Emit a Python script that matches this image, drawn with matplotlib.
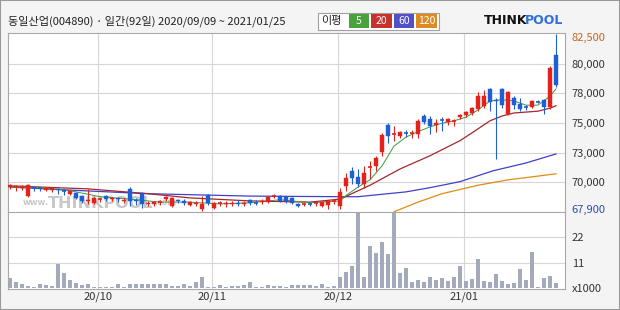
import matplotlib
matplotlib.use('Agg')
import matplotlib.pyplot as plt
from matplotlib.patches import Rectangle
import matplotlib.transforms as mtransforms

plt.rcParams['font.family'] = ['Noto Sans CJK KR', 'DejaVu Sans']

# daily candles 2020/09/09 ~ 2021/01/25 (92 trading days)
opens = [69800, 69800, 69750, 69050, 69800, 69750, 69550, 69550, 69650, 69550,
         69250, 69300, 69050, 68650, 68500, 68750, 69050, 68800, 68900, 68650,
         69650, 68750, 69250, 68400, 68400, 68500, 68800, 68250, 68750, 68650,
         68300, 68400, 68000, 69150, 68050, 68400, 68400, 68400, 68500, 68400,
         68750, 68550, 68550, 68550, 69000, 69050, 69000, 68900, 68400, 68350,
         68450, 68400, 68250, 68300, 68600, 68250, 69900, 71150, 70650, 70050,
         71400, 71550, 72700, 74950, 74150, 74050, 74350, 74250, 74200, 75700,
         75450, 74950, 75450, 75200, 75250, 75600, 75800, 75950, 76300, 76550,
         77950, 77050, 77950, 75850, 77200, 76700, 76500, 76450, 76900, 77050,
         76450, 80750]
closes = [69950, 69900, 69900, 69950, 69750, 69700, 69750, 69750, 69550, 69500,
          69500, 68900, 68650, 68750, 68900, 68800, 68800, 68900, 68800, 68750,
          68650, 68650, 68400, 68500, 68550, 68550, 69000, 68900, 68650, 68500,
          68550, 68500, 68400, 68500, 68500, 68450, 68500, 68500, 68400, 68500,
          68500, 68500, 68650, 69000, 69050, 68650, 68650, 68500, 68250, 68400,
          68400, 68450, 68550, 68650, 68650, 69400, 70550, 70550, 70050, 70950,
          71450, 72200, 74150, 74050, 74200, 74350, 74300, 74300, 75300, 75200,
          74850, 75100, 75400, 75450, 75300, 75800, 76050, 76350, 77350, 77350,
          76850, 76950, 76600, 77700, 76600, 76300, 76450, 76950, 76850, 76450,
          79700, 78300]
highs = [70050, 69950, 69950, 70050, 69900, 69800, 69800, 69800, 69750, 69650,
         69550, 69400, 69150, 69650, 69000, 68900, 69150, 69000, 69000, 68900,
         69800, 68900, 69400, 68650, 68650, 68750, 69050, 69000, 68800, 68800,
         68650, 68650, 69050, 69250, 68550, 68650, 68650, 68650, 68750, 68650,
         68800, 68750, 68800, 69050, 69250, 69150, 69050, 69000, 68500, 68500,
         68550, 68550, 68650, 68750, 68800, 69750, 70950, 71450, 71300, 71550,
         71950, 72400, 74300, 75100, 74850, 74450, 74550, 74550, 75450, 75850,
         75700, 75450, 75600, 75550, 75450, 75850, 76100, 76450, 77700, 77850,
         78050, 77200, 78050, 77800, 77350, 77200, 76600, 77050, 77050, 77100,
         79850, 82500]
lows = [69650, 69500, 69550, 69000, 69500, 69450, 69500, 69400, 69250, 69150,
        69150, 68800, 68500, 68400, 68400, 68550, 68650, 68650, 68550, 68500,
        68250, 68300, 68050, 68250, 68250, 68300, 68650, 68150, 68500, 68300,
        68250, 68250, 67800, 68300, 68000, 68250, 68150, 68250, 68250, 68250,
        68300, 68300, 68400, 68500, 68900, 68550, 68500, 68400, 68150, 68250,
        68250, 68250, 68150, 68000, 68400, 68000, 69500, 70050, 69800, 69750,
        70450, 71150, 72400, 73450, 73650, 73900, 73950, 73900, 73900, 75050,
        74200, 74350, 74450, 74950, 74850, 75450, 75600, 75800, 76100, 76350,
        76100, 72150, 76350, 75800, 76300, 76100, 76200, 76350, 76800, 75850,
        76300, 78100]
# volume, x1000 shares
volumes = [4.4, 2.5, 1.9, 1.0, 0.4, 1.9, 1.2, 0.7, 10.6, 6.6,
           3.4, 2.2, 1.5, 1.9, 0.4, 0.3, 0.3, 0.3, 1.9, 0.4,
           1.6, 1.9, 1.9, 1.8, 1.9, 1.8, 1.6, 0.7, 0.7, 1.9,
           1.0, 2.5, 4.7, 0.3, 0.3, 1.2, 0.4, 0.7, 0.7, 1.2,
           2.4, 0.4, 0.4, 1.3, 0.7, 0.7, 0.6, 1.2, 1.2, 1.2,
           1.5, 0.7, 1.9, 0.6, 0.7, 4.8, 7.0, 9.7, 36.0, 4.8,
           18.4, 15.0, 20.0, 14.6, 36.0, 6.3, 8.7, 2.7, 3.3, 2.5,
           4.8, 3.6, 4.2, 3.0, 4.8, 9.7, 3.0, 3.9, 12.7, 3.0,
           2.7, 6.0, 3.0, 1.9, 2.1, 8.2, 3.3, 15.7, 0.6, 4.2,
           5.2, 2.1]

# moving averages (day index, price)
ma5_idx = [0, 5, 10, 15, 20, 25, 30, 35, 40, 45, 50, 55, 56, 58, 60, 62, 64, 66,
           68, 70, 72, 74, 76, 78, 80, 82, 84, 86, 88, 90, 91]
ma5_val = [69800, 69750, 69500, 69000, 68800, 68550, 68550, 68400, 68500, 68750,
           68500, 68650, 69100, 69800, 70400, 71550, 73200, 73950, 74400, 74800,
           75100, 75300, 75600, 76200, 76950, 77050, 76950, 76600, 76600, 77350, 77950]
ma20_idx = [0, 13, 23, 30, 40, 50, 55, 60, 65, 70, 73, 75, 77, 80, 82, 84, 88, 90, 91]
ma20_val = [69900, 69650, 69250, 68900, 68650, 68550, 68800, 69950, 71300, 72400,
            73150, 73650, 74300, 75300, 75700, 75950, 76100, 76350, 76550]
ma60_idx = [0, 12, 23, 40, 55, 58, 61, 66, 70, 75, 80.5, 86, 91]
ma60_val = [69800, 69500, 69250, 69050, 69000, 69000, 69150, 69400, 69750, 70250,
            71150, 71800, 72550]
ma120_idx = [64, 68, 72, 78, 83, 91]
ma120_val = [67750, 68550, 69250, 69950, 70400, 70900]

month_starts = [15, 34, 55, 76]
month_labels = ['20/10', '20/11', '20/12', '21/01']
price_grid = [70240, 72650, 75160, 77580, 80000]
price_grid_labels = ['70,000', '73,000', '75,000', '78,000', '80,000']
vol_ticks = [0, 11, 22]
vol_tick_labels = ['x1000', '11', '22']

UP = '#e4211b'
DOWN = '#1e5fd4'
GRID = '#d6d6d6'
EDGE = '#a8a8a8'
W, H = 620, 310


def box(x0, y0, x1, y1):
    # pixel box (top-left origin) -> figure fraction
    return [x0 / W, 1 - y1 / H, (x1 - x0) / W, (y1 - y0) / H]


fig = plt.figure(figsize=(6.2, 3.1), dpi=100, facecolor='#f4f4f4')
ax_p = fig.add_axes(box(8, 33, 565, 212))
ax_v = fig.add_axes(box(8, 212, 565, 289))

n = len(opens)
for ax in (ax_p, ax_v):
    ax.set_facecolor('white')
    ax.set_xlim(-0.33, 92.5)
    for s in ax.spines.values():
        s.set_color(EDGE)
        s.set_linewidth(0.8)
    for m in month_starts:
        ax.axvline(m - 0.35, color=GRID, lw=0.8, zorder=0)
    ax.tick_params(length=0)
# one divider line between the panels
ax_p.spines['bottom'].set_visible(False)

# price panel
ax_p.set_ylim(67730, 82590)
for g in price_grid:
    ax_p.axhline(g, color=GRID, lw=0.8, zorder=0)
ax_p.set_xticks([])
ax_p.yaxis.tick_right()
ax_p.set_yticks(price_grid)
ax_p.set_yticklabels(price_grid_labels, fontsize=8, color='#333333')
ax_p.tick_params(axis='y', pad=5)

# watermark
ax_p.text(0.026, 0.04, 'www.', transform=ax_p.transAxes, fontsize=6.5,
          color='#c4c4c4', fontweight='bold', zorder=0.5)
ax_p.text(0.072, 0.025, 'THINKPOOL', transform=ax_p.transAxes, fontsize=11.5,
          color='#c8c8c8', fontweight='bold', family='DejaVu Sans', zorder=0.5)
ax_p.text(0.262, 0.04, '.com', transform=ax_p.transAxes, fontsize=6.5,
          color='#c4c4c4', fontweight='bold', zorder=0.5)

ax_p.plot(ma120_idx, ma120_val, color='#e08c12', lw=0.9, zorder=2)
ax_p.plot(ma60_idx, ma60_val, color='#4040c8', lw=0.9, zorder=2)
ax_p.plot(ma20_idx, ma20_val, color='#a5262c', lw=0.9, zorder=2)
ax_p.plot(ma5_idx, ma5_val, color='#3b9b3b', lw=0.7, zorder=2)

for i in range(n):
    o, c, h, l = opens[i], closes[i], highs[i], lows[i]
    col = UP if c >= o else DOWN
    ax_p.vlines(i, l, h, color=col, lw=0.8, zorder=3)
    if abs(c - o) < 60:
        ax_p.hlines(c, i - 0.36, i + 0.36, color=col, lw=1.2, zorder=3)
    else:
        ax_p.bar(i, abs(c - o), bottom=min(o, c), width=0.72, color=col,
                 edgecolor=col, lw=0.3, zorder=3)

# high / low markers on the price scale
blend = mtransforms.blended_transform_factory(ax_p.transAxes, ax_p.transData)
ax_p.text(1.011, max(highs) - 300, '{:,}'.format(max(highs)), transform=blend,
          fontsize=8, color='#c4671f', va='center')
ax_p.text(1.011, 67900, '67,900', transform=blend,
          fontsize=8, color='#2a4ea8', va='center')

# volume panel
ax_v.set_ylim(-0.44, 33.0)
for t in vol_ticks[1:]:
    ax_v.axhline(t, color=GRID, lw=0.8, zorder=0)
ax_v.bar(range(n), volumes, width=0.75, color='#a3aabb', zorder=2)
ax_v.yaxis.tick_right()
ax_v.set_yticks(vol_ticks)
ax_v.set_yticklabels(vol_tick_labels, fontsize=8, color='#333333')
ax_v.tick_params(axis='y', pad=5)
ax_v.set_xticks([m - 0.35 for m in month_starts])
ax_v.set_xticklabels(month_labels, fontsize=8, color='#333333')
ax_v.tick_params(axis='x', pad=2)

# header
fig.text(8 / W, 1 - 21 / H, '동일산업(004890) · 일간(92일) 2020/09/09 ~ 2021/01/25',
         fontsize=8, color='#222222', va='center')
fig.patches.append(Rectangle((318 / W, 1 - 30 / H), 121 / W, 17 / H, transform=fig.transFigure,
                             facecolor='white', edgecolor='#a0a0a0', lw=0.8))
fig.text(331 / W, 1 - 21 / H, '이평', fontsize=8, color='#222222', va='center', ha='center')
legend_boxes = [('5', '#47a33a', 349, 369), ('20', '#c7322c', 371, 392),
                ('60', '#5050c8', 394, 414), ('120', '#dc8a22', 416, 437)]
for lab, col, x0, x1 in legend_boxes:
    fig.patches.append(Rectangle((x0 / W, 1 - 28 / H), (x1 - x0) / W, 14 / H,
                                 transform=fig.transFigure, facecolor=col, edgecolor='none'))
    fig.text((x0 + x1) / 2 / W, 1 - 21 / H, lab, fontsize=7.5, color='white',
             va='center', ha='center')

# logo
fig.text(484 / W, 1 - 20 / H, 'THINK', fontsize=9, fontweight='bold', color='#111111',
         va='center', family='DejaVu Sans')
fig.text(525 / W, 1 - 20 / H, 'POOL', fontsize=9, fontweight='bold', color='#2f6fd8',
         va='center', family='DejaVu Sans')

# outer frame
fig.patches.append(Rectangle((0, 0), 1, 1, transform=fig.transFigure, fill=False,
                             edgecolor='#999999', lw=1.5))

fig.savefig('out.png', dpi=100, facecolor=fig.get_facecolor())
